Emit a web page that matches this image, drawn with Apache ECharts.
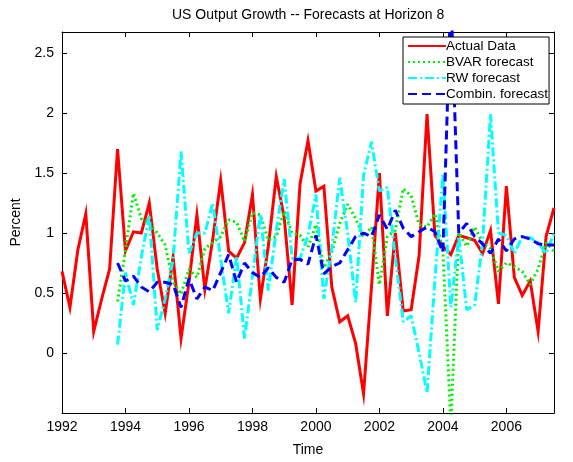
<!DOCTYPE html>
<html>
<head>
<meta charset="utf-8">
<script src="https://cdn.jsdelivr.net/npm/echarts@6/dist/echarts.min.js"></script>
<style>
  html, body { margin: 0; padding: 0; background: #ffffff; overflow: hidden; }
  #chart { width: 100vw; height: 100vh; }
</style>
</head>
<body>
<div id="chart"></div>
<script>
// Quarterly US output growth (percent) and 8-step-ahead forecasts.
const actualStart = 1992.0;     // time of the first actual observation
const forecastStart = 1993.75;  // time of the first forecast
const quarterStep = 0.25;

const seriesNames = ['Actual Data', 'BVAR forecast', 'RW forecast', 'Combin. forecast'];
const yearTicks = [1992, 1994, 1996, 1998, 2000, 2002, 2004, 2006];

const actualData = [
  0.68, 0.38, 0.86, 1.16,   // 1992
  0.18, 0.45, 0.70, 1.70,   // 1993
  0.85, 1.01, 1.00, 1.25,   // 1994
  0.70, 0.33, 0.80, 0.12,   // 1995
  0.59, 1.15, 0.53, 0.95,   // 1996
  1.44, 0.85, 0.79, 0.92,   // 1997
  1.32, 0.45, 0.89, 1.47,   // 1998
  1.13, 0.40, 1.41, 1.77,   // 1999
  1.35, 1.39, 0.55, 0.26,   // 2000
  0.31, 0.08, -0.34, 0.55,  // 2001
  1.50, 0.31, 1.00, 0.35,   // 2002
  0.36, 0.81, 1.99, 0.98,   // 2003
  0.89, 0.82, 0.98, 0.96,   // 2004
  0.94, 0.83, 1.02, 0.41,   // 2005
  1.39, 0.63, 0.48, 0.60,   // 2006
  0.18, 0.97, 1.21          // 2007
];

const bvarForecast = [
  0.43,                     // 1993Q4
  0.86, 1.33, 1.12, 1.08,   // 1994
  1.00, 0.90, 0.59, 0.49,   // 1995
  0.70, 0.63, 0.87, 0.92,   // 1996
  0.97, 1.11, 1.09, 0.93,   // 1997
  1.17, 1.15, 0.94, 0.97,   // 1998
  1.18, 1.00, 0.98, 0.88,   // 1999
  1.07, 0.71, 0.84, 1.08,   // 2000
  1.24, 1.12, 0.97, 1.05,   // 2001
  0.57, 0.97, 1.02, 1.37,   // 2002
  1.31, 1.07, 1.05, 1.16,   // 2003
  0.85, -0.60, 1.00, 0.89,  // 2004
  1.05, 0.92, 0.87, 0.68,   // 2005
  0.75, 0.72, 0.68, 0.57,   // 2006
  0.70, 0.92, 0.85          // 2007
];

const rwForecast = [
  0.07,                     // 1993Q4
  0.67, 0.40, 0.80, 1.15,   // 1994
  0.19, 0.45, 0.78, 1.68,   // 1995
  0.83, 1.00, 1.00, 1.25,   // 1996
  0.78, 0.33, 0.81, 0.12,   // 1997
  0.64, 1.16, 0.52, 1.02,   // 1998
  1.45, 0.79, 0.79, 0.98,   // 1999
  1.32, 0.45, 0.88, 1.46,   // 2000
  1.00, 0.42, 1.48, 1.76,   // 2001
  1.35, 1.38, 0.80, 0.26,   // 2002
  0.31, 0.00, -0.33, 0.62,  // 2003
  1.49, 0.38, 0.97, 0.36,   // 2004
  0.40, 0.92, 1.99, 1.00,   // 2005
  0.98, 0.83, 0.97, 0.96,   // 2006
  0.92, 0.83, 1.00          // 2007
];

const combinForecast = [
  0.75,                     // 1993Q4
  0.60, 0.64, 0.55, 0.51,   // 1994
  0.59, 0.59, 0.57, 0.38,   // 1995
  0.62, 0.45, 0.55, 0.52,   // 1996
  0.67, 0.82, 0.59, 0.75,   // 1997
  0.67, 0.63, 0.71, 0.63,   // 1998
  0.59, 0.78, 0.78, 0.74,   // 1999
  0.98, 0.66, 0.72, 0.75,   // 2000
  0.86, 0.97, 1.00, 0.97,   // 2001
  1.15, 1.03, 1.19, 1.04,   // 2002
  0.97, 1.01, 1.05, 1.01,   // 2003
  0.84, 3.00, 1.00, 1.08,   // 2004
  0.97, 0.91, 0.83, 0.95,   // 2005
  0.85, 0.95, 0.97, 0.95,   // 2006
  0.91, 0.90, 0.90          // 2007
];

// Pair each value with its quarter on the time axis.
function withTime(start, values) {
  return values.map((v, i) => [start + i * quarterStep, v]);
}

const FONT = '"Liberation Sans", Arial, Helvetica, sans-serif';
const BLACK = '#000000';

const xRange = { min: 1992, max: 2007.5, interval: 2 };
const yRange = { min: -0.5, max: 2.675, interval: 0.5 };

function frameAxis(extra) {
  return Object.assign({
    type: 'value',
    axisLine: { show: true, onZero: false, lineStyle: { color: BLACK, width: 1 } },
    axisTick: { show: true, inside: true, length: 5, lineStyle: { color: BLACK, width: 1 } },
    splitLine: { show: false }
  }, extra);
}

const chart = echarts.init(document.getElementById('chart'), null, { renderer: 'canvas' });

chart.setOption({
  backgroundColor: '#ffffff',
  animation: false,
  title: {
    text: 'US Output Growth -- Forecasts at Horizon 8',
    left: 167,
    top: 3,
    textStyle: { fontFamily: FONT, fontSize: 14, fontWeight: 'normal', color: BLACK }
  },
  grid: { left: 62, right: 19, top: 32, bottom: 43, containLabel: false },
  legend: {
    data: seriesNames,
    orient: 'vertical',
    left: 403,
    top: 37,
    backgroundColor: '#ffffff',
    borderColor: BLACK,
    borderWidth: 1,
    borderRadius: 0,
    padding: [2, 1, 3, 4],
    itemGap: 2,
    itemWidth: 38,
    itemHeight: 12,
    itemStyle: { opacity: 0 },
    textStyle: { fontFamily: FONT, fontSize: 13.5, color: BLACK, padding: [0, 0, 0, -5] }
  },
  xAxis: [
    frameAxis(Object.assign({}, xRange, {
      position: 'bottom',
      name: 'Time',
      nameLocation: 'middle',
      nameGap: 30,
      nameTextStyle: { fontFamily: FONT, fontSize: 14, color: BLACK },
      axisLabel: {
        color: BLACK, fontFamily: FONT, fontSize: 14, margin: 7, showMaxLabel: false,
        formatter: v => (yearTicks.indexOf(v) >= 0 ? String(v) : '')
      }
    })),
    frameAxis(Object.assign({}, xRange, {
      position: 'top',
      axisLabel: { show: false }
    }))
  ],
  yAxis: [
    frameAxis(Object.assign({}, yRange, {
      position: 'left',
      name: 'Percent',
      nameLocation: 'middle',
      nameGap: 26,
      nameTextStyle: { fontFamily: FONT, fontSize: 14, color: BLACK },
      axisLabel: {
        color: BLACK, fontFamily: FONT, fontSize: 14, margin: 8,
        showMinLabel: false, showMaxLabel: false
      }
    })),
    frameAxis(Object.assign({}, yRange, {
      position: 'right',
      axisLabel: { show: false }
    }))
  ],
  series: [
    {
      name: seriesNames[0], type: 'line', xAxisIndex: 0, yAxisIndex: 0,
      data: withTime(actualStart, actualData),
      symbol: 'none', showSymbol: false, clip: true,
      lineStyle: { color: '#ff0000', width: 3, type: 'solid', join: 'miter' },
      itemStyle: { color: '#ff0000' }
    },
    {
      name: seriesNames[1], type: 'line', xAxisIndex: 0, yAxisIndex: 0,
      data: withTime(forecastStart, bvarForecast),
      symbol: 'none', showSymbol: false, clip: true,
      lineStyle: { color: '#00ee00', width: 3, type: [2, 3], cap: 'butt' },
      itemStyle: { color: '#00ee00' }
    },
    {
      name: seriesNames[2], type: 'line', xAxisIndex: 0, yAxisIndex: 0,
      data: withTime(forecastStart, rwForecast),
      symbol: 'none', showSymbol: false, clip: true,
      lineStyle: { color: '#00ffff', width: 3, type: [9, 3, 2, 3], cap: 'butt' },
      itemStyle: { color: '#00ffff' }
    },
    {
      name: seriesNames[3], type: 'line', xAxisIndex: 0, yAxisIndex: 0,
      data: withTime(forecastStart, combinForecast),
      symbol: 'none', showSymbol: false, clip: true,
      lineStyle: { color: '#0000ff', width: 3, type: [9, 5], cap: 'butt' },
      itemStyle: { color: '#0000ff' }
    }
  ]
});
</script>
</body>
</html>
